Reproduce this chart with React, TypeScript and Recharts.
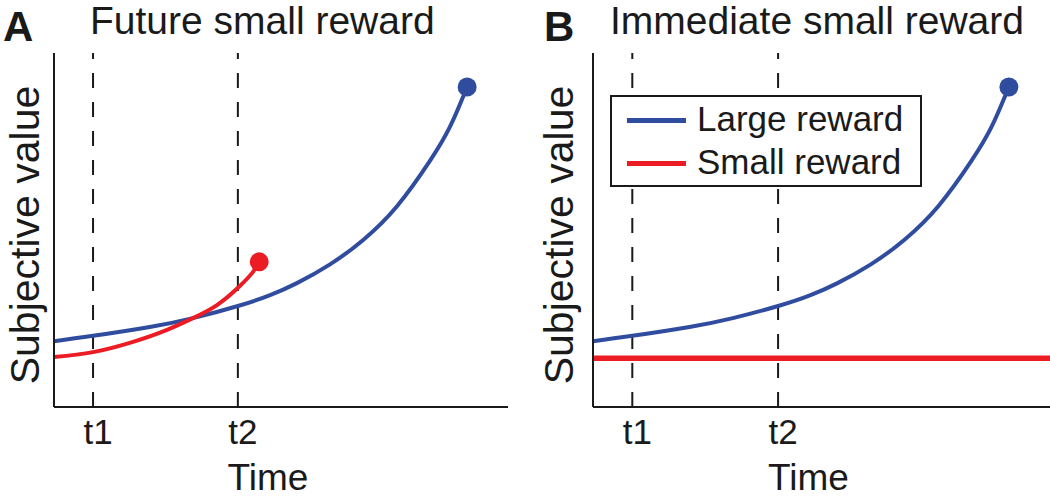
import { LineChart, Line, XAxis, YAxis, ReferenceLine, Legend } from "recharts";

const BLUE = "#2f4c9f";
const RED = "#ec1c24";
const INK = "#1a1a1a";

// time axis: 0..100, with the two marked moments
const timeTicks = [8.6, 40.5];
const timeTickLabels = ["t1", "t2"];

// large (later) reward – discounted value over time
const largeTime = [0, 8.6, 21.1, 30.6, 40.7, 47.6, 53.5, 60.8, 68.1, 75.6, 82.8, 87.2, 90.1, 91.0];
const largeValue = [18.6, 20.1, 22.6, 25.1, 28.6, 31.6, 35.0, 40.3, 47.2, 56.8, 69.5, 79.1, 87.6, 90.4];

// small reward, panel A (future)
const smallTimeA = [0, 8.6, 17.4, 24.9, 30.6, 35.9, 40.7, 43.8, 45.2];
const smallValueA = [14.1, 15.5, 18.4, 21.8, 25.1, 28.8, 33.9, 38.1, 41.0];

// small reward, panel B (immediate)
const smallTimeB = [0, 100];
const smallValueB = [13.8, 13.8];

const toPoints = (ts: number[], vs: number[]) => ts.map((t, i) => ({ t, v: vs[i] }));

const largeData = toPoints(largeTime, largeValue);
const smallDataA = toPoints(smallTimeA, smallValueA);
const smallDataB = toPoints(smallTimeB, smallValueB);

const endDot = (color: string, n: number | null) => (props: any) =>
  n !== null && props.index === n - 1 ? (
    <circle key={`dot-${props.index}`} cx={props.cx} cy={props.cy} r={9.5} fill={color} />
  ) : (
    <g key={`dot-${props.index}`} />
  );

function LegendBox({ payload }: any) {
  return (
    <div
      style={{
        border: `2px solid ${INK}`,
        background: "#fff",
        width: 293,
        height: 88,
        paddingLeft: 15,
        boxSizing: "content-box",
        fontSize: 35,
        color: INK,
      }}
    >
      {(payload || []).map((p: any) => (
        <div key={p.value} style={{ display: "flex", alignItems: "center", height: 43 }}>
          <div style={{ width: 59, height: 5, background: p.color, marginRight: 11, marginTop: 3 }} />
          <span style={{ lineHeight: "43px", whiteSpace: "nowrap" }}>{p.value}</span>
        </div>
      ))}
    </div>
  );
}

interface PanelProps {
  left: number;
  width: number;
  axisWidth: number;
  rightMargin: number;
  smallData: { t: number; v: number }[];
  smallWidth: number;
  smallHasDot: boolean;
  showLegend: boolean;
}

function Panel({ left, width, axisWidth, rightMargin, smallData, smallWidth, smallHasDot, showLegend }: PanelProps) {
  return (
    <div style={{ position: "absolute", left, top: 0 }}>
      <LineChart width={width} height={498} margin={{ top: 53, right: rightMargin, bottom: 0, left: 0 }}>
        <XAxis
          type="number"
          dataKey="t"
          domain={[0, 100]}
          ticks={timeTicks}
          interval={0}
          tickFormatter={(v: number) => timeTickLabels[timeTicks.indexOf(v)]}
          tickLine={false}
          tickMargin={6}
          tick={{ fontSize: 35, fill: INK, dx: 5 }}
          axisLine={{ stroke: INK, strokeWidth: 2 }}
          height={91}
          label={{ value: "Time", position: "insideBottom", offset: 8, dx: -13, fontSize: 37, fill: INK }}
        />
        <YAxis
          type="number"
          domain={[0, 100]}
          width={axisWidth}
          tick={false}
          tickLine={false}
          axisLine={{ stroke: INK, strokeWidth: 2 }}
          label={{ value: "Subjective value", angle: -90, position: "center", dx: -3, dy: 5, fontSize: 41, fill: INK }}
        />
        <ReferenceLine x={timeTicks[0]} stroke={INK} strokeWidth={2} strokeDasharray="15 14" />
        <ReferenceLine x={timeTicks[1]} stroke={INK} strokeWidth={2} strokeDasharray="15 14" />
        <Line
          data={largeData}
          dataKey="v"
          name="Large reward"
          type="natural"
          stroke={BLUE}
          strokeWidth={4}
          dot={endDot(BLUE, largeData.length)}
          activeDot={false}
          isAnimationActive={false}
        />
        <Line
          data={smallData}
          dataKey="v"
          name="Small reward"
          type="natural"
          stroke={RED}
          strokeWidth={smallWidth}
          dot={endDot(RED, smallHasDot ? smallData.length : null)}
          activeDot={false}
          isAnimationActive={false}
        />
        {showLegend && (
          <Legend
            layout="vertical"
            align="center"
            verticalAlign="middle"
            content={<LegendBox />}
            wrapperStyle={{ left: 80, top: 95, width: "auto" }}
          />
        )}
      </LineChart>
    </div>
  );
}

const titleStyle = { position: "absolute" as const, lineHeight: 1, color: INK, whiteSpace: "nowrap" as const };

export default function App() {
  return (
    <div
      style={{
        position: "absolute",
        left: 0,
        top: 0,
        width: 1050,
        height: 498,
        background: "#fff",
        overflow: "hidden",
        fontFamily: "'Liberation Sans', Arial, sans-serif",
      }}
    >
      <Panel left={0} width={530} axisWidth={54} rightMargin={22} smallData={smallDataA} smallWidth={4} smallHasDot showLegend={false} />
      <Panel left={530} width={520} axisWidth={63} rightMargin={0} smallData={smallDataB} smallWidth={5.5} smallHasDot={false} showLegend />
      <div style={{ ...titleStyle, left: 3, top: 6, fontSize: 42, fontWeight: 700 }}>A</div>
      <div style={{ ...titleStyle, left: 90, top: 1, fontSize: 39 }}>Future small reward</div>
      <div style={{ ...titleStyle, left: 544, top: 6, fontSize: 42, fontWeight: 700 }}>B</div>
      <div style={{ ...titleStyle, left: 610, top: 1, fontSize: 39 }}>Immediate small reward</div>
    </div>
  );
}
